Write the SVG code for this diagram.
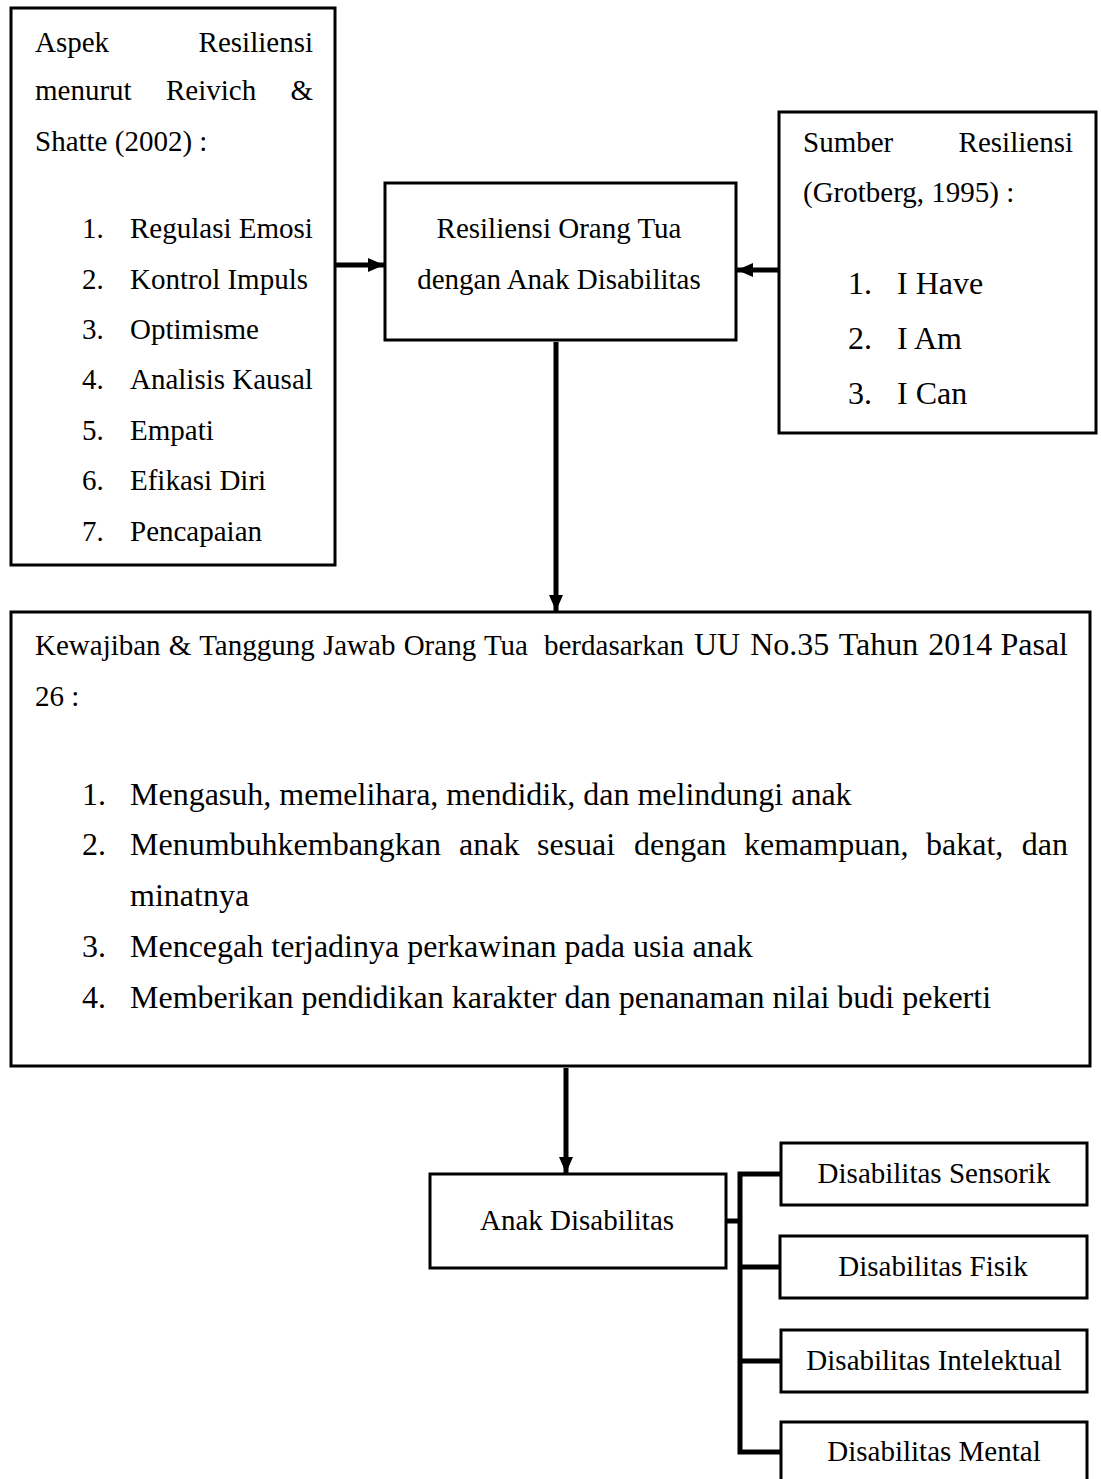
<svg xmlns="http://www.w3.org/2000/svg" width="1101" height="1479" viewBox="0 0 1101 1479">
<style>
.box{fill:#fff;stroke:#000;stroke-width:3}
.t{font-family:"Liberation Serif","Times New Roman",serif;font-size:29px;fill:#000}
.tb{font-family:"Liberation Serif","Times New Roman",serif;font-size:32px;fill:#000}
.c{text-anchor:middle}
.e{text-anchor:end}
.ln{fill:none;stroke:#000;stroke-width:5}
</style>
<defs>
<marker id="ah" markerUnits="userSpaceOnUse" markerWidth="16" markerHeight="14" refX="16" refY="7" orient="auto">
<path d="M0,0 L16,7 L0,14 z" fill="#000"/>
</marker>
</defs>
<rect width="1101" height="1479" fill="#fff"/>
<g id="connectors">
<line class="ln" x1="336" y1="265" x2="384" y2="265" marker-end="url(#ah)"/>
<line class="ln" x1="778" y1="270" x2="737" y2="270" marker-end="url(#ah)"/>
<line class="ln" x1="556" y1="342" x2="556" y2="611" marker-end="url(#ah)"/>
<line class="ln" x1="566" y1="1068" x2="566" y2="1173" marker-end="url(#ah)"/>
<path class="ln" d="M726,1221 H740"/>
<path class="ln" d="M781,1174 H740 V1452 H781"/>
<path class="ln" d="M740,1267 H781"/>
<path class="ln" d="M740,1361 H781"/>
</g>
<g id="aspek">
<rect class="box" x="11" y="8" width="324" height="557"/>
<text class="t" x="35" y="52">Aspek</text>
<text class="t e" x="313" y="52">Resiliensi</text>
<text class="t" x="35" y="100">menurut</text>
<text class="t" x="166" y="100">Reivich</text>
<text class="t e" x="313" y="100">&amp;</text>
<text class="t" x="35" y="151">Shatte (2002) :</text>
<text class="t" x="82" y="238">1.</text><text class="t" x="130" y="238">Regulasi Emosi</text>
<text class="t" x="82" y="289">2.</text><text class="t" x="130" y="289">Kontrol Impuls</text>
<text class="t" x="82" y="339">3.</text><text class="t" x="130" y="339">Optimisme</text>
<text class="t" x="82" y="389">4.</text><text class="t" x="130" y="389">Analisis Kausal</text>
<text class="t" x="82" y="440">5.</text><text class="t" x="130" y="440">Empati</text>
<text class="t" x="82" y="490">6.</text><text class="t" x="130" y="490">Efikasi Diri</text>
<text class="t" x="82" y="541">7.</text><text class="t" x="130" y="541">Pencapaian</text>
</g>
<g id="resiliensi">
<rect class="box" x="385" y="183" width="351" height="157"/>
<text class="t c" x="559" y="238">Resiliensi Orang Tua</text>
<text class="t c" x="559" y="289">dengan Anak Disabilitas</text>
</g>
<g id="sumber">
<rect class="box" x="779" y="112" width="317" height="321"/>
<text class="t" x="803" y="152">Sumber</text>
<text class="t e" x="1073" y="152">Resiliensi</text>
<text class="t" x="803" y="202">(Grotberg, 1995) :</text>
<text class="tb" x="848" y="294">1.</text><text class="tb" x="897" y="294">I Have</text>
<text class="tb" x="848" y="349">2.</text><text class="tb" x="897" y="349">I Am</text>
<text class="tb" x="848" y="404">3.</text><text class="tb" x="897" y="404">I Can</text>
</g>
<g id="kewajiban">
<rect class="box" x="11" y="612" width="1079" height="454"/>
<text class="t" y="655"><tspan x="35" word-spacing="1">Kewajiban &amp; Tanggung Jawab Orang Tua</tspan><tspan x="544">berdasarkan</tspan><tspan x="694" font-size="32" word-spacing="2">UU No.35 Tahun 2014</tspan><tspan x="1068" font-size="32" text-anchor="end">Pasal</tspan></text>
<text class="t" x="35" y="706">26 :</text>
<text class="tb" x="82" y="805">1.</text><text class="tb" x="130" y="805">Mengasuh, memelihara, mendidik, dan melindungi anak</text>
<text class="tb" x="82" y="855">2.</text>
<text class="tb" y="855"><tspan x="130">Menumbuhkembangkan</tspan><tspan x="459">anak</tspan><tspan x="537">sesuai</tspan><tspan x="634">dengan</tspan><tspan x="744">kemampuan,</tspan><tspan x="926">bakat,</tspan><tspan x="1068" text-anchor="end">dan</tspan></text>
<text class="tb" x="130" y="906">minatnya</text>
<text class="tb" x="82" y="957">3.</text><text class="tb" x="130" y="957">Mencegah terjadinya perkawinan pada usia anak</text>
<text class="tb" x="82" y="1008">4.</text><text class="tb" x="130" y="1008">Memberikan pendidikan karakter dan penanaman nilai budi pekerti</text>
</g>
<g id="anak">
<rect class="box" x="430" y="1174" width="296" height="94"/>
<text class="t c" x="577" y="1230">Anak Disabilitas</text>
</g>
<g id="sensorik">
<rect class="box" x="781" y="1143" width="306" height="62"/>
<text class="t c" x="934" y="1183">Disabilitas Sensorik</text>
</g>
<g id="fisik">
<rect class="box" x="780" y="1236" width="307" height="62"/>
<text class="t c" x="933" y="1276">Disabilitas Fisik</text>
</g>
<g id="intelektual">
<rect class="box" x="781" y="1330" width="306" height="62"/>
<text class="t c" x="934" y="1370">Disabilitas Intelektual</text>
</g>
<g id="mental">
<rect class="box" x="781" y="1422" width="306" height="62"/>
<text class="t c" x="934" y="1461">Disabilitas Mental</text>
</g>
</svg>
